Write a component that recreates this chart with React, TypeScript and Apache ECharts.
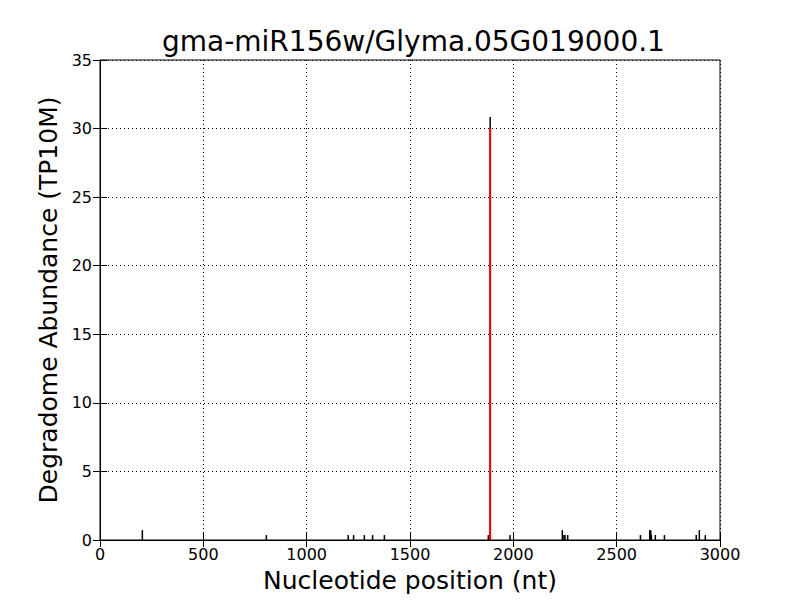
import React, { useEffect, useRef } from "react";
import * as echarts from "echarts";

const titleText = "gma-miR156w/Glyma.05G019000.1";
const xName = "Nucleotide position (nt)";
const yName = "Degradome Abundance (TP10M)";

const positions = [205, 805, 1201, 1227, 1279, 1319, 1376, 1879, 1888, 1984, 2237, 2245, 2250, 2263, 2615, 2660, 2665, 2668, 2687, 2731, 2885, 2900, 2929];
const abundance = [0.72, 0.36, 0.36, 0.36, 0.36, 0.36, 0.36, 0.36, 30.85, 0.36, 0.72, 0.36, 0.36, 0.36, 0.36, 0.72, 0.72, 0.36, 0.36, 0.36, 0.36, 0.72, 0.36];

const sitePositions = [1888];
const siteValues = [30];

const FONT = "DejaVu Sans";

export default function App() {
  const ref = useRef<HTMLDivElement>(null);
  useEffect(() => {
    const chart = echarts.init(ref.current!, null, { renderer: "svg" });
    const lineItem = (color: string, width: number) => (params: any, api: any) => {
      const x = api.value(0);
      const y = api.value(1);
      const p0 = api.coord([x, 0]);
      const p1 = api.coord([x, y]);
      return {
        type: "line",
        shape: { x1: p0[0], y1: p0[1], x2: p1[0], y2: p1[1] },
        style: { stroke: color, lineWidth: width },
      };
    };
    const axisCommon = {
      axisLine: { show: true, lineStyle: { color: "#000", width: 1 } },
      axisTick: { show: true, inside: true, length: 7, lineStyle: { color: "#000" } },
    };
    chart.setOption({
      animation: false,
      backgroundColor: "#fff",
      title: {
        text: titleText,
        left: 157,
        top: 22,
        textStyle: { fontFamily: FONT, fontSize: 28, fontWeight: "normal", color: "#000" },
      },
      grid: { left: 100, right: 80, top: 60, bottom: 60, show: true, borderColor: "#000", borderWidth: 1 },
      xAxis: [
        {
          type: "value",
          min: 0,
          max: 3000,
          interval: 500,
          name: xName,
          nameLocation: "middle",
          nameGap: 28,
          nameTextStyle: { fontFamily: FONT, fontSize: 25, color: "#000" },
          axisLabel: { fontFamily: FONT, fontSize: 16, color: "#000", margin: 6, formatter: (v: number) => String(v) },
          splitLine: { show: true, lineStyle: { color: "#000", type: [1, 3], width: 1 } },
          ...axisCommon,
        },
        {
          type: "value",
          position: "top",
          min: 0,
          max: 3000,
          interval: 500,
          axisLabel: { show: false },
          splitLine: { show: false },
          ...axisCommon,
        },
      ],
      yAxis: [
        {
          type: "value",
          min: 0,
          max: 35,
          interval: 5,
          name: yName,
          nameLocation: "middle",
          nameGap: 34,
          nameTextStyle: { fontFamily: FONT, fontSize: 25, color: "#000" },
          axisLabel: { fontFamily: FONT, fontSize: 16, color: "#000", margin: 8, formatter: (v: number) => String(v) },
          splitLine: { show: true, lineStyle: { color: "#000", type: [1, 3], width: 1 } },
          ...axisCommon,
        },
        {
          type: "value",
          position: "right",
          min: 0,
          max: 35,
          interval: 5,
          axisLabel: { show: false },
          splitLine: { show: false },
          ...axisCommon,
        },
      ],
      series: [
        {
          type: "custom",
          renderItem: lineItem("#000", 1.5),
          data: positions.map((p, i) => [p, abundance[i]]),
          clip: true,
        },
        {
          type: "custom",
          renderItem: lineItem("#ff0000", 2),
          data: sitePositions.map((p, i) => [p, siteValues[i]]),
          clip: true,
        },
      ],
    });
    return () => chart.dispose();
  }, []);
  return <div ref={ref} style={{ width: 800, height: 600, position: "absolute", left: 0, top: 0 }} />;
}
